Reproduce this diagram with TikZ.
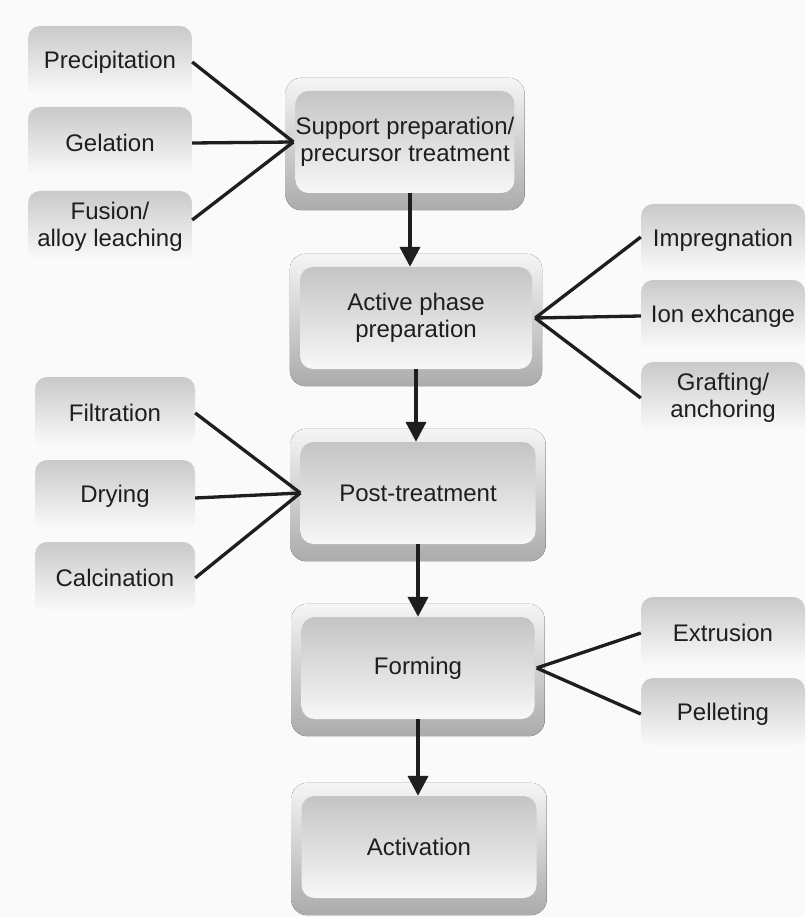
\documentclass[tikz,border=0pt]{standalone}
\usepackage{fontspec}
\setmainfont{Liberation Sans}
\usetikzlibrary{arrows.meta}
\pgfdeclarelayer{background}
\pgfsetlayers{background,main}
\definecolor{txt}{HTML}{1E1E1E}
\definecolor{bg}{HTML}{FAFAFA}
\tikzset{
  mainbox/.style={rounded corners=13pt, top color=black!23, bottom color=black!3,
    minimum width=#1, minimum height=102pt, align=center, text=txt,
    font=\fontsize{24}{27}\selectfont, inner sep=0pt},
  sidebox/.style={rounded corners=12pt, top color=black!21, bottom color=black!1,
    minimum width=164pt, minimum height=72pt, align=center, text=txt,
    font=\fontsize{24}{27}\selectfont, inner sep=0pt},
  shadowbox/.style={rounded corners=16pt, top color=black!4, bottom color=black!33},
  link/.style={line width=3.3pt, draw=txt},
  arr/.style={line width=4pt, draw=txt, -{Triangle[length=20pt,width=20pt]}}
}
\newcommand{\shadowof}[1]{%
  \begin{pgfonlayer}{background}
  \fill[shadowbox] ([xshift=-10pt,yshift=13pt]#1.north west) rectangle ([xshift=10pt,yshift=-17pt]#1.south east);
  \end{pgfonlayer}}
\begin{document}
\begin{tikzpicture}[x=1pt,y=-1pt]
\begin{pgfonlayer}{background}
\fill[bg] (0,0) rectangle (805,917);
\end{pgfonlayer}
\useasboundingbox (0,0) rectangle (805,917);

% main column
\node[mainbox=216pt] (sup) at (405,142) {Support preparation/\\precursor treatment};
\node[mainbox=232pt] (act) at (416,318) {Active phase\\preparation};
\node[mainbox=235pt] (post) at (418,493) {Post-treatment};
\node[mainbox=233pt] (form) at (418,668) {Forming};
\node[mainbox=235pt] (actv) at (419,847) {Activation};
\shadowof{sup}\shadowof{act}\shadowof{post}\shadowof{form}\shadowof{actv}

% left group 1
\node[sidebox] (prec) at (110,62) {Precipitation};
\node[sidebox] (gel) at (110,143) {Gelation};
\node[sidebox] (fus) at (110,227) {Fusion/\\alloy leaching};

% right group 2
\node[sidebox] (imp) at (723,240) {Impregnation};
\node[sidebox] (ion) at (723,316) {Ion exhcange};
\node[sidebox] (graf) at (723,398) {Grafting/\\anchoring};

% left group 3
\node[sidebox, minimum width=160pt] (filt) at (115,413) {Filtration};
\node[sidebox, minimum width=160pt] (dry) at (115,496) {Drying};
\node[sidebox, minimum width=160pt] (calc) at (115,578) {Calcination};

% right group 4
\node[sidebox] (extr) at (723,633) {Extrusion};
\node[sidebox] (pell) at (723,714) {Pelleting};

% connectors
\coordinate (j1) at ([xshift=-2pt]sup.west);
\draw[link] (prec.east) -- (j1);
\draw[link] (gel.east) -- (j1);
\draw[link] ([yshift=7pt]fus.east) -- (j1);

\coordinate (j2) at ([xshift=3pt]act.east);
\draw[link] ([yshift=3pt]imp.west) -- (j2);
\draw[link] (ion.west) -- (j2);
\draw[link] (graf.west) -- (j2);

\coordinate (j3) at (post.west);
\draw[link] (filt.east) -- (j3);
\draw[link] ([yshift=-2pt]dry.east) -- (j3);
\draw[link] (calc.east) -- (j3);

\coordinate (j4) at ([xshift=2pt]form.east);
\draw[link] (extr.west) -- (j4);
\draw[link] (pell.west) -- (j4);

% arrows
\draw[arr] ([xshift=5pt]sup.south) -- ([xshift=5pt]sup.south |- act.north);
\draw[arr] (act.south) -- (act.south |- post.north);
\draw[arr] (post.south) -- (post.south |- form.north);
\draw[arr] (form.south) -- (form.south |- actv.north);
\end{tikzpicture}
\end{document}
